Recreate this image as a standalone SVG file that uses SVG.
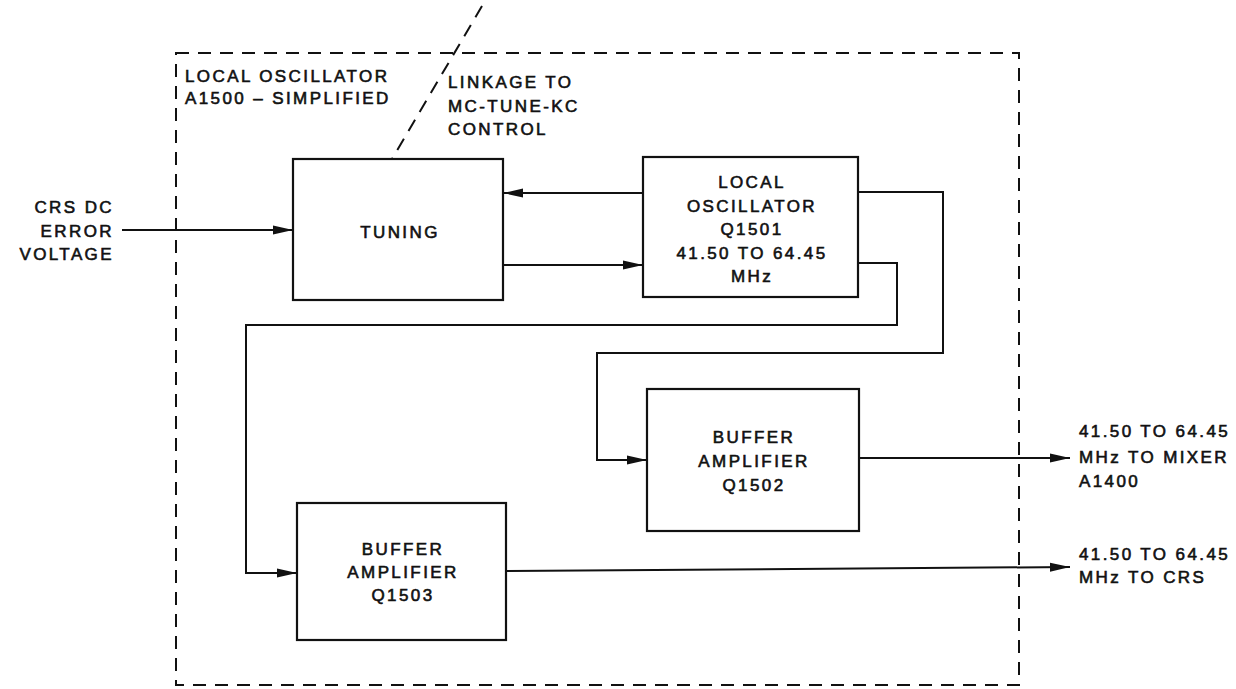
<svg xmlns="http://www.w3.org/2000/svg" width="1236" height="689" viewBox="0 0 1236 689">
<style>
text{font-family:"Liberation Sans",Arial,sans-serif;font-size:17px;fill:#111;letter-spacing:2.4px;stroke:#111;stroke-width:0.6}
.c{text-anchor:middle}
.e{text-anchor:end}
.box{fill:none;stroke:#111;stroke-width:2.2}
.wire{fill:none;stroke:#111;stroke-width:2}
.arr{marker-end:url(#ah)}
.dash{fill:none;stroke:#111;stroke-width:2;stroke-dasharray:13 9}
</style>
<defs>
<marker id="ah" markerUnits="userSpaceOnUse" markerWidth="20" markerHeight="10" refX="20" refY="5" orient="auto">
<path d="M0,0.5 L20,5 L0,9.5 z" fill="#111"/>
</marker>
</defs>
<rect width="1236" height="689" fill="#fff"/>
<g id="boundary">
<rect class="dash" x="176" y="53" width="843" height="632"/>
<line class="dash" x1="482" y1="6" x2="392" y2="159"/>
<text x="185" y="82">LOCAL OSCILLATOR</text>
<text x="185" y="104">A1500 – SIMPLIFIED</text>
<text x="448" y="88">LINKAGE TO</text>
<text x="448" y="112">MC-TUNE-KC</text>
<text x="448" y="135">CONTROL</text>
</g>
<g id="input-label">
<text class="e" x="114" y="213">CRS DC</text>
<text class="e" x="114" y="237">ERROR</text>
<text class="e" x="114" y="260">VOLTAGE</text>
</g>
<g id="tuning">
<rect class="box" x="293" y="159" width="210" height="141"/>
<text class="c" x="400" y="238">TUNING</text>
</g>
<g id="local-oscillator">
<rect class="box" x="643" y="157" width="215" height="140"/>
<text class="c" x="752" y="188">LOCAL</text>
<text class="c" x="752" y="212">OSCILLATOR</text>
<text class="c" x="752" y="235">Q1501</text>
<text class="c" x="752" y="259">41.50 TO 64.45</text>
<text class="c" x="752" y="282">MHz</text>
</g>
<g id="buffer-q1502">
<rect class="box" x="647" y="389" width="212" height="142"/>
<text class="c" x="754" y="443">BUFFER</text>
<text class="c" x="754" y="467">AMPLIFIER</text>
<text class="c" x="754" y="491">Q1502</text>
</g>
<g id="buffer-q1503">
<rect class="box" x="297" y="503" width="209" height="137"/>
<text class="c" x="403" y="555">BUFFER</text>
<text class="c" x="403" y="578">AMPLIFIER</text>
<text class="c" x="403" y="601">Q1503</text>
</g>
<g id="output-labels">
<text x="1079" y="437">41.50 TO 64.45</text>
<text x="1079" y="463">MHz TO MIXER</text>
<text x="1079" y="487">A1400</text>
<text x="1079" y="560">41.50 TO 64.45</text>
<text x="1079" y="583">MHz TO CRS</text>
</g>
<g id="connectors">
<path class="wire arr" d="M122,230 H293"/>
<path class="wire arr" d="M643,193 H503"/>
<path class="wire arr" d="M503,265 H643"/>
<path class="wire arr" d="M858,192 H943 V353 H597 V460 H647"/>
<path class="wire arr" d="M858,263 H897 V325 H246 V573 H297"/>
<path class="wire arr" d="M859,458 H1070"/>
<path class="wire arr" d="M506,571 L1070,567"/>
</g>
</svg>
